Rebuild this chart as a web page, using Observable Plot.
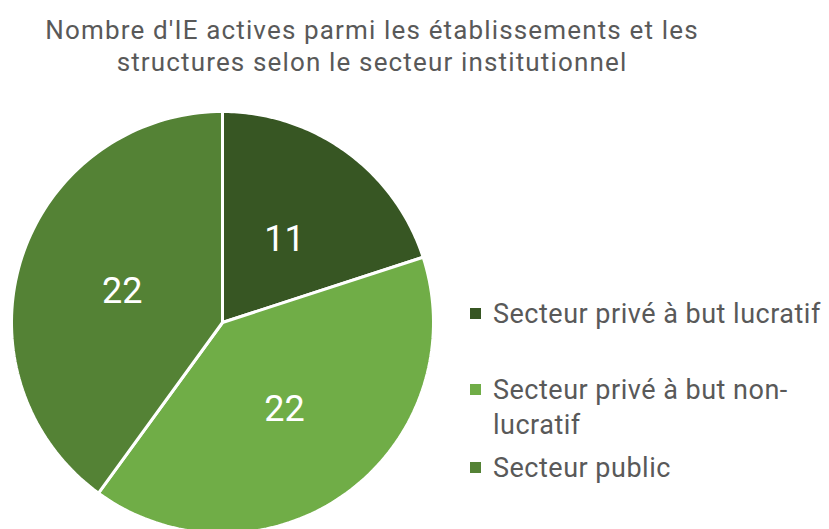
<!DOCTYPE html>
<html><head><meta charset="utf-8">
<script src="https://cdn.jsdelivr.net/npm/d3@7"></script>
<script src="https://cdn.jsdelivr.net/npm/@observablehq/plot@0.6"></script>
<style>
body{margin:0;background:#fff;}
#wrap{position:relative;width:829px;height:529px;overflow:hidden;font-family:Roboto,"Noto Sans",sans-serif;color:#595959;}
#title{position:absolute;left:0;top:14px;width:744px;text-align:center;font-size:26px;line-height:32px;letter-spacing:1.15px;font-weight:400;}
#legend{position:absolute;left:470px;top:0;font-size:27px;letter-spacing:0.5px;font-weight:400;}
.item{position:absolute;left:0;display:flex;align-items:flex-start;white-space:nowrap;}
.sw{width:11px;height:11px;margin-top:6px;margin-right:12px;flex:none;}
.item span{line-height:35px;margin-top:-5px;}
#chart{position:absolute;left:0;top:0;}
</style></head>
<body><div id="wrap">
<div id="chart"></div>
<div id="title">Nombre d'IE actives parmi les établissements et les<br>structures selon le secteur institutionnel</div>
<div id="legend"></div>
</div>
<script>
const categories = ["Secteur privé à but lucratif", "Secteur privé à but non-lucratif", "Secteur public"];
const legendLabels = ["Secteur privé à but lucratif", "Secteur privé à but non-<br>lucratif", "Secteur public"];
const values = [11, 22, 22];
const colors = ["#375623", "#70AD47", "#548235"];

const data = categories.map((c, i) => ({category: c, value: values[i]}));
const arcs = d3.pie().value(d => d.value).sort(null)(data);

const pts = [];
arcs.forEach(a => {
  const n = 90;
  pts.push({category: a.data.category, x: 0, y: 0});
  for (let k = 0; k <= n; k++) {
    const t = a.startAngle + (a.endAngle - a.startAngle) * k / n;
    pts.push({category: a.data.category, x: Math.sin(t), y: Math.cos(t)});
  }
  pts.push({category: a.data.category, x: 0, y: 0});
});
const labels = arcs.map(a => {
  const m = (a.startAngle + a.endAngle) / 2;
  return {category: a.data.category, value: a.data.value, x: 0.5 * Math.sin(m), y: 0.5 * Math.cos(m)};
});

const plot = Plot.plot({
  width: 829, height: 529,
  margin: 0,
  x: {domain: [-1, 1], range: [11, 433], axis: null},
  y: {domain: [-1, 1], range: [533, 111], axis: null},
  color: {domain: categories, range: colors},
  style: {background: "transparent"},
  marks: [
    Plot.line(pts, {x: "x", y: "y", z: "category", fill: "category", stroke: "white", strokeWidth: 3, strokeLinejoin: "miter", curve: "linear"}),
    Plot.text(labels, {x: "x", y: "y", text: d => String(d.value), fill: "white", fontSize: 36, fontWeight: 400, fontFamily: "Roboto, sans-serif", dy: 2})
  ]
});
document.getElementById("chart").appendChild(plot);

const tops = [302, 378, 456];
const lg = document.getElementById("legend");
legendLabels.forEach((l, i) => {
  const d = document.createElement("div");
  d.className = "item";
  d.style.top = tops[i] + "px";
  d.innerHTML = `<div class="sw" style="background:${colors[i]}"></div><span>${l}</span>`;
  lg.appendChild(d);
});
</script>
</body></html>
